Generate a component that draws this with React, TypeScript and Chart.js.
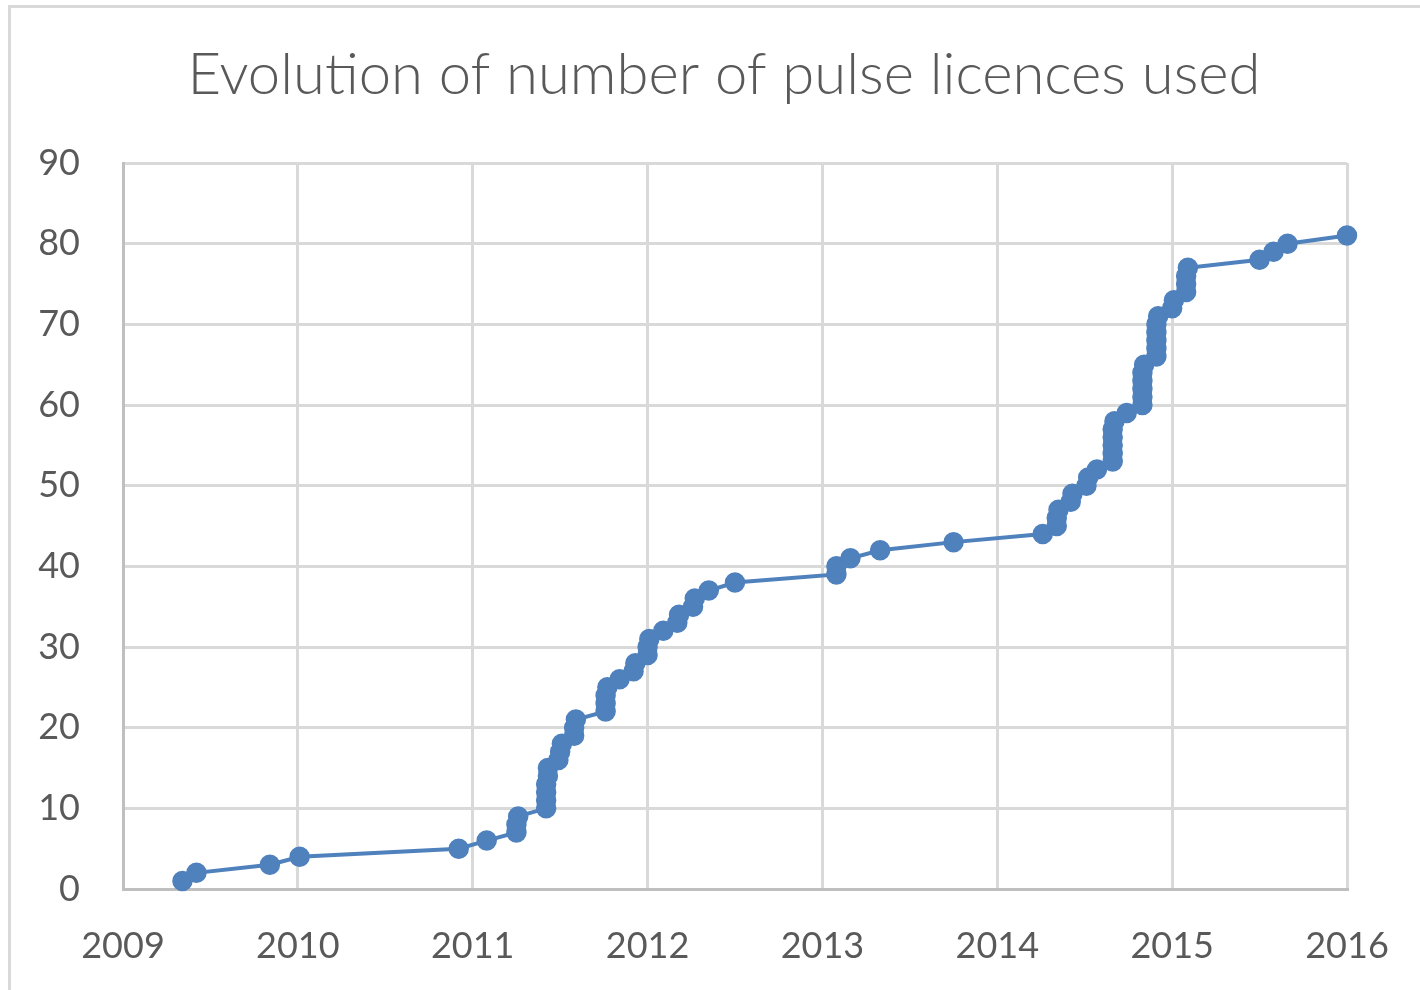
import React, { useEffect, useRef } from "react";
import { Chart, registerables } from "chart.js";

Chart.register(...registerables);

const chartTitle = "Evolution of number of pulse licences used";

// Date of each licence (decimal years)
const licenceDates = [
  2009.34, 2009.42, 2009.84, 2010.01, 2010.92, 2011.08,
  2011.25, 2011.25, 2011.26,
  2011.42, 2011.42, 2011.42, 2011.42, 2011.43, 2011.43,
  2011.49, 2011.50, 2011.51,
  2011.58, 2011.58, 2011.59,
  2011.76, 2011.76, 2011.76, 2011.77,
  2011.84, 2011.92, 2011.93,
  2012.00, 2012.00, 2012.01,
  2012.09, 2012.17, 2012.18, 2012.26, 2012.27, 2012.35, 2012.50,
  2013.08, 2013.08, 2013.16, 2013.33, 2013.75,
  2014.26, 2014.34, 2014.34, 2014.35, 2014.42, 2014.43, 2014.51, 2014.52, 2014.57,
  2014.66, 2014.66, 2014.66, 2014.66, 2014.66, 2014.67,
  2014.74,
  2014.83, 2014.83, 2014.83, 2014.83, 2014.83, 2014.84,
  2014.91, 2014.91, 2014.91, 2014.91, 2014.91, 2014.92,
  2015.00, 2015.01,
  2015.08, 2015.08, 2015.08, 2015.09,
  2015.50, 2015.58, 2015.66, 2016.00,
];

// Cumulative number of licences used
const licencesUsed = [
  1, 2, 3, 4, 5, 6,
  7, 8, 9,
  10, 11, 12, 13, 14, 15,
  16, 17, 18,
  19, 20, 21,
  22, 23, 24, 25,
  26, 27, 28,
  29, 30, 31,
  32, 33, 34, 35, 36, 37, 38,
  39, 40, 41, 42, 43,
  44, 45, 46, 47, 48, 49, 50, 51, 52,
  53, 54, 55, 56, 57, 58,
  59,
  60, 61, 62, 63, 64, 65,
  66, 67, 68, 69, 70, 71,
  72, 73,
  74, 75, 76, 77,
  78, 79, 80, 81,
];

const xTickLabels = ["2009", "2010", "2011", "2012", "2013", "2014", "2015", "2016"];
const yTickLabels = ["0", "10", "20", "30", "40", "50", "60", "70", "80", "90"];

const BLUE = "#4F81BD";
const GRID = "#d9d9d9";
const AXIS = "#bfbfbf";
const TEXT = "#595959";
const FONT = "Lato, 'Open Sans', sans-serif";

const titlePlugin = {
  id: "excelTitle",
  afterDraw(chart: any) {
    const ctx = chart.ctx;
    ctx.save();
    ctx.fillStyle = TEXT;
    ctx.font = `300 58px ${FONT}`;
    ctx.textAlign = "center";
    ctx.textBaseline = "middle";
    ctx.fillText(chartTitle, 724, 75);
    ctx.restore();
  },
};

export default function App() {
  const canvasRef = useRef<HTMLCanvasElement | null>(null);

  useEffect(() => {
    const canvas = canvasRef.current;
    if (!canvas) return;
    const points = licenceDates.map((d, i) => ({ x: d, y: licencesUsed[i] }));
    const chart = new Chart(canvas, {
      type: "scatter",
      data: {
        datasets: [
          {
            data: points,
            showLine: true,
            borderColor: BLUE,
            backgroundColor: BLUE,
            borderWidth: 4,
            pointRadius: 9.5,
            pointBorderWidth: 1.5,
            pointBackgroundColor: BLUE,
            pointBorderColor: BLUE,
            clip: false as any,
          },
        ],
      },
      plugins: [titlePlugin],
      options: {
        animation: false,
        responsive: false,
        maintainAspectRatio: false,
        layout: { padding: { top: 163, right: 73, bottom: 0, left: 0 } },
        plugins: {
          legend: { display: false },
          tooltip: { enabled: false },
          title: { display: false },
        },
        scales: {
          x: {
            type: "linear",
            min: 2009,
            max: 2016,
            ticks: {
              stepSize: 1,
              padding: 36,
              color: TEXT,
              font: { family: FONT, size: 36 },
              maxRotation: 0,
              callback: (v: any) => xTickLabels[Math.round(Number(v) - 2009)] ?? "",
            },
            grid: { color: GRID, lineWidth: 3, drawTicks: false },
            border: { color: AXIS, width: 3 },
            afterFit: (scale: any) => {
              scale.height = 101;
              scale.paddingLeft = 0;
              scale.paddingRight = 0;
            },
          },
          y: {
            type: "linear",
            min: 0,
            max: 90,
            ticks: {
              stepSize: 10,
              padding: 43,
              color: TEXT,
              font: { family: FONT, size: 36 },
              callback: (v: any) => yTickLabels[Math.round(Number(v) / 10)] ?? "",
            },
            grid: { color: GRID, lineWidth: 3, drawTicks: false },
            border: { color: AXIS, width: 3 },
            afterFit: (scale: any) => {
              scale.width = 123;
              scale.paddingTop = 0;
              scale.paddingBottom = 0;
            },
          },
        },
      },
    });
    return () => chart.destroy();
  }, []);

  return (
    <div
      style={{
        position: "fixed",
        left: 0,
        top: 0,
        width: 1420,
        height: 990,
        background: "#ffffff",
        overflow: "hidden",
      }}
    >
      <div
        style={{
          position: "absolute",
          left: 8,
          top: 5,
          width: 1430,
          height: 1000,
          borderTop: `3px solid ${GRID}`,
          borderLeft: `3px solid ${GRID}`,
        }}
      />
      <canvas
        ref={canvasRef}
        width={1420}
        height={990}
        style={{ position: "absolute", left: 0, top: 0, width: 1420, height: 990 }}
      />
    </div>
  );
}
